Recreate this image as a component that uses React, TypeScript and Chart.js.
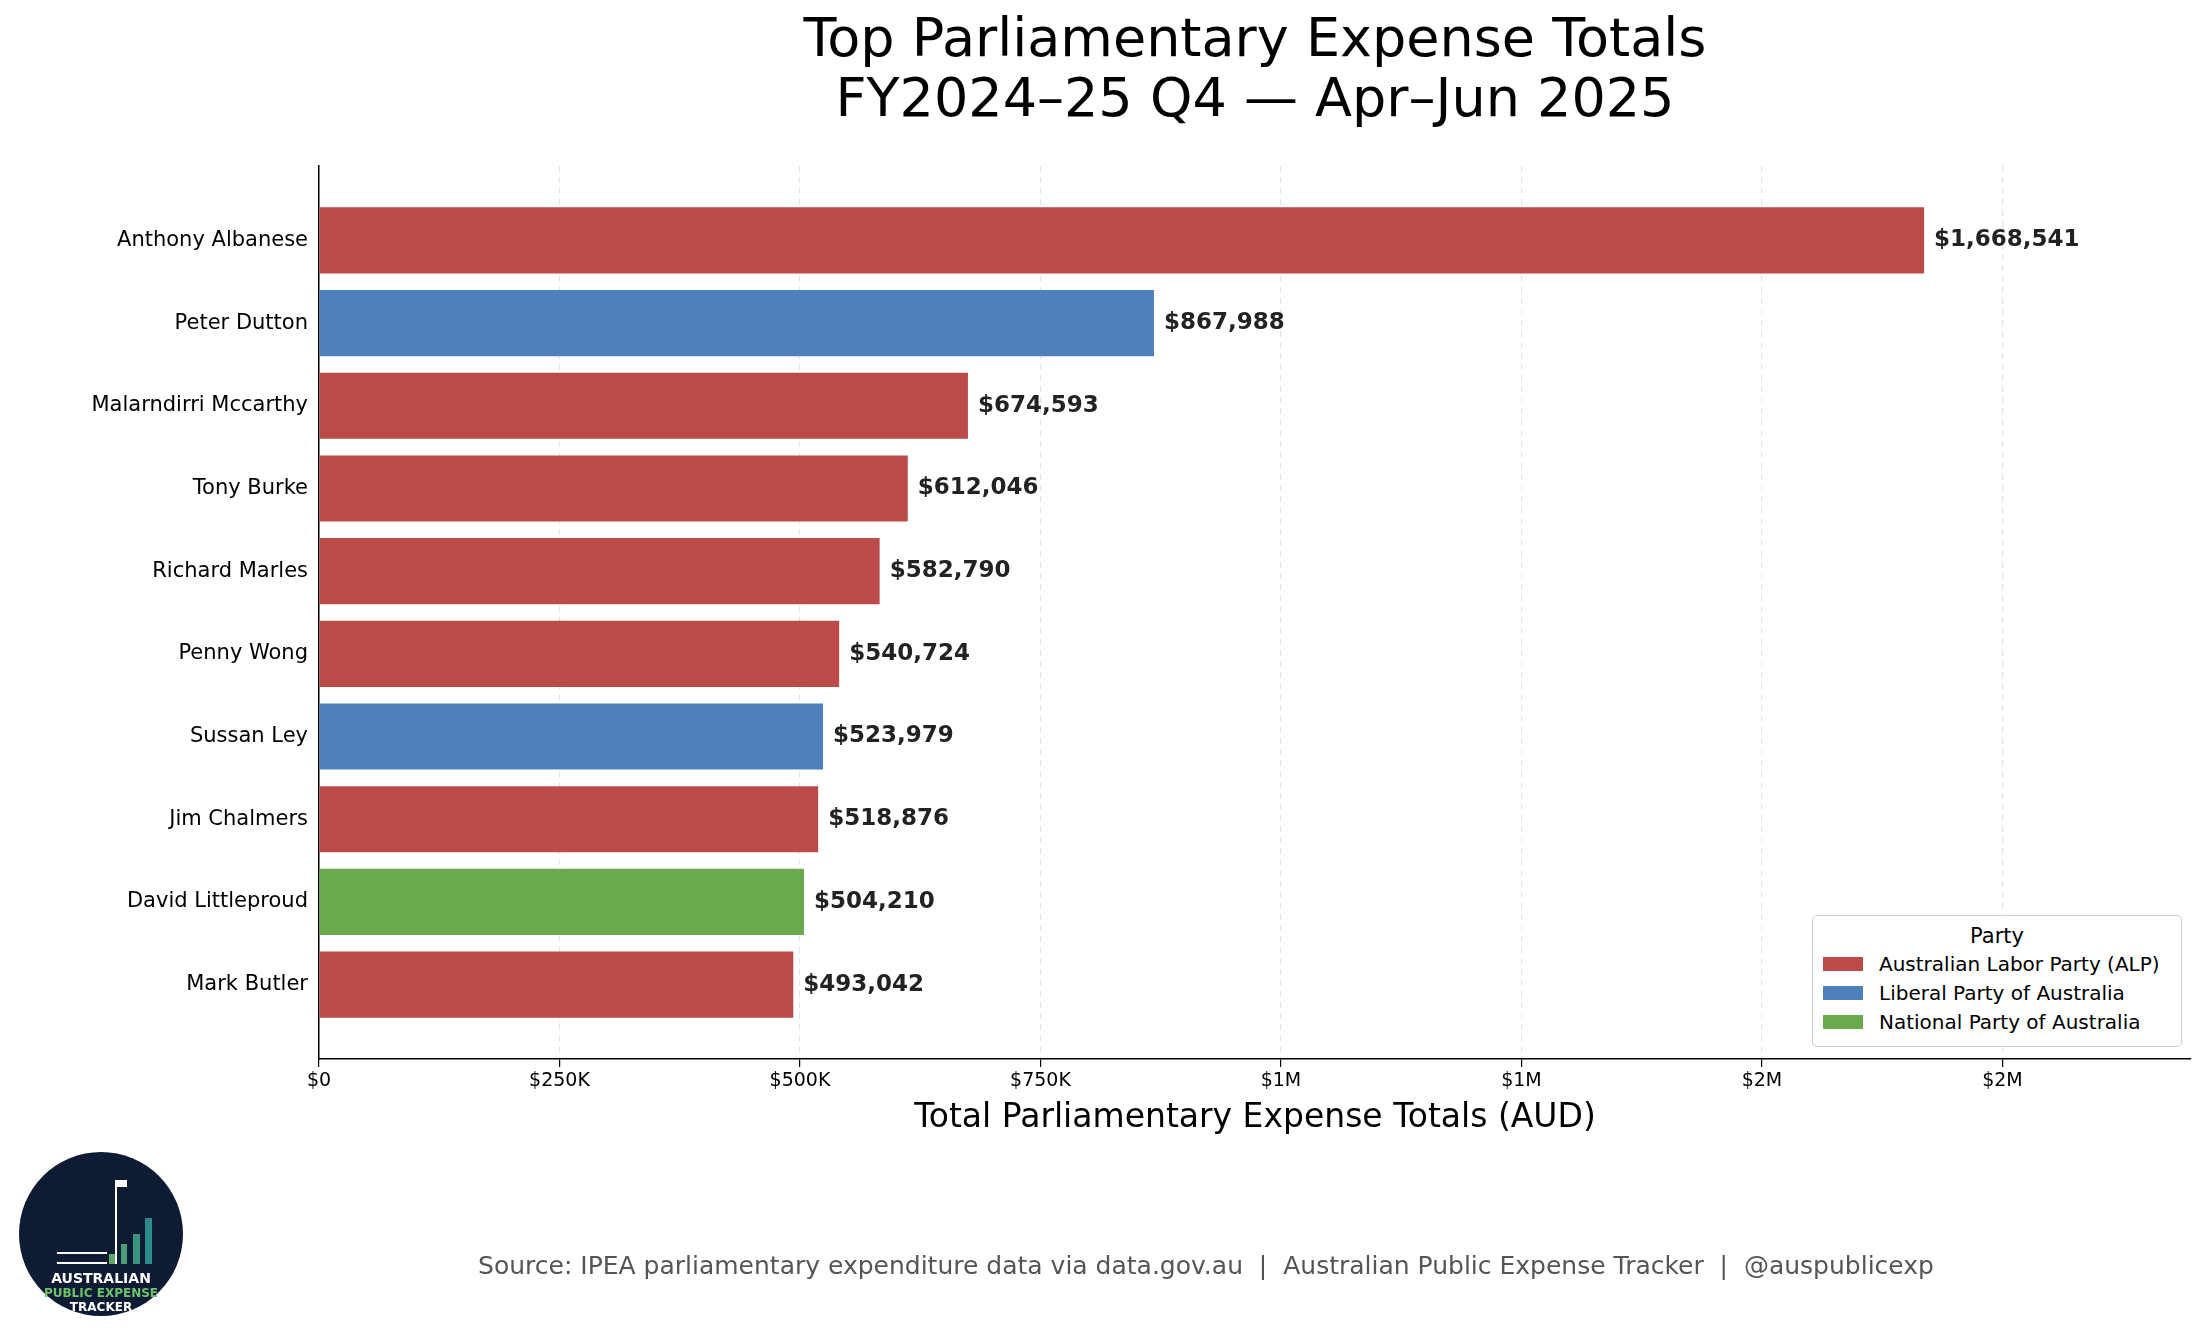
import { useEffect, useRef } from "react";
import { Chart, registerables } from "chart.js";

Chart.register(...registerables);

const names = [
  "Anthony Albanese",
  "Peter Dutton",
  "Malarndirri Mccarthy",
  "Tony Burke",
  "Richard Marles",
  "Penny Wong",
  "Sussan Ley",
  "Jim Chalmers",
  "David Littleproud",
  "Mark Butler",
];
const totals = [1668541, 867988, 674593, 612046, 582790, 540724, 523979, 518876, 504210, 493042];
const parties = ["ALP", "LIB", "ALP", "ALP", "ALP", "ALP", "LIB", "ALP", "NAT", "ALP"];
const xTicks = [0, 250000, 500000, 750000, 1000000, 1250000, 1500000, 1750000];
const partyNames = ["Australian Labor Party (ALP)", "Liberal Party of Australia", "National Party of Australia"];
const partyColors: Record<string, string> = { ALP: "#bb4a48", LIB: "#4e80bc", NAT: "#6aa94e" };
const legendColors = [partyColors.ALP, partyColors.LIB, partyColors.NAT];

const FONT = "'DejaVu Sans', sans-serif";

const valueLabels = {
  id: "valueLabels",
  afterDatasetsDraw(chart: Chart) {
    const ctx = chart.ctx;
    const meta = chart.getDatasetMeta(0);
    ctx.save();
    ctx.font = `bold 23px ${FONT}`;
    ctx.fillStyle = "#222";
    ctx.textBaseline = "middle";
    meta.data.forEach((bar: any, i: number) => {
      ctx.fillText("$" + totals[i].toLocaleString("en-US"), bar.x + 10, bar.y);
    });
    ctx.restore();
  },
};

export default function App() {
  const canvasRef = useRef<HTMLCanvasElement>(null);
  const chartRef = useRef<Chart | null>(null);

  useEffect(() => {
    if (!canvasRef.current) return;
    if (chartRef.current) chartRef.current.destroy();

    chartRef.current = new Chart(canvasRef.current, {
      type: "bar",
      data: {
        datasets: [{
          data: totals.map((v, i) => ({ x: v, y: i })),
          backgroundColor: parties.map(p => partyColors[p]),
          categoryPercentage: 0.8,
          barPercentage: 1,
        }],
      },
      plugins: [valueLabels],
      options: {
        indexAxis: "y",
        animation: false,
        responsive: false,
        layout: { padding: { top: 166, right: 14, bottom: 238, left: 0 } },
        plugins: { legend: { display: false }, tooltip: { enabled: false } },
        scales: {
          x: {
            type: "linear",
            min: 0,
            max: 1946000,
            afterFit: (s: any) => { s.height = 40; },
            afterBuildTicks: (s: any) => { s.ticks = xTicks.map(v => ({ value: v })); },
            ticks: {
              color: "#000",
              font: { family: FONT, size: 19 },
              autoSkip: false,
              maxRotation: 0,
              callback: (v: any) => {
                const n = Number(v);
                if (n === 0) return "$0";
                if (n < 1e6) return `$${n / 1000}K`;
                return `$${Math.round(n / 1e6)}M`;
              },
            },
            grid: {
              color: (c: any) => (c.tick && c.tick.value === 0 ? "rgba(0,0,0,0)" : "#e4e4e4"),
              tickColor: "#000",
              tickLength: 8,
              lineWidth: 1.2,
            },
            border: { color: "#000", width: 1.5, dash: [6, 5] } as any,
          },
          y: {
            type: "linear",
            min: -0.9,
            max: 9.9,
            reverse: true,
            offset: false,
            afterFit: (s: any) => { s.width = 319; },
            afterBuildTicks: (s: any) => { s.ticks = names.map((_, i) => ({ value: i })); },
            ticks: {
              color: "#000",
              autoSkip: false,
              font: { family: FONT, size: 21 },
              callback: (v: any) => names[Number(v)] ?? "",
            },
            grid: { display: false, offset: false, drawTicks: true, tickLength: 8, tickColor: "#000" } as any,
            border: { color: "#000", width: 1.5 },
          },
        },
      },
    });

    return () => {
      if (chartRef.current) chartRef.current.destroy();
    };
  }, []);

  return (
    <div style={{ position: "absolute", left: 0, top: 0, width: 2205, height: 1337, background: "#fff", fontFamily: FONT }}>
      <canvas ref={canvasRef} width={2205} height={1337} style={{ position: "absolute", left: 0, top: 0 }} />
      <div style={{ position: "absolute", left: 0, width: 2510, top: 8, textAlign: "center", fontSize: 54, lineHeight: "60px", color: "#000" }}>
        Top Parliamentary Expense Totals<br />FY2024–25 Q4 — Apr–Jun 2025
      </div>
      <div style={{ position: "absolute", left: 319, width: 1872, top: 1096, textAlign: "center", fontSize: 33, color: "#000" }}>
        Total Parliamentary Expense Totals (AUD)
      </div>
      <div style={{ position: "absolute", left: 400, width: 1612, top: 1251, textAlign: "center", fontSize: 25, color: "#555" }}>
        Source: IPEA parliamentary expenditure data via data.gov.au&nbsp; | &nbsp;Australian Public Expense Tracker&nbsp; | &nbsp;@auspublicexp
      </div>
      <div style={{ position: "absolute", left: 19, top: 1152, width: 164, height: 164, borderRadius: "50%", background: "#0d1b33", color: "#fff", textAlign: "center", fontWeight: "bold" }}>
        <div style={{ position: "absolute", top: 58, left: 22, width: 100, height: 54 }}>
          <div style={{ position: "absolute", left: 16, bottom: 0, width: 50, height: 8, borderTop: "2px solid #fff", borderBottom: "2px solid #fff" }} />
          <div style={{ position: "absolute", left: 74, top: -30, width: 2, height: 84, background: "#fff" }} />
          <div style={{ position: "absolute", left: 76, top: -30, width: 10, height: 7, background: "#fff" }} />
          <div style={{ position: "absolute", left: 68, bottom: 0, width: 6, height: 10, background: "#5fa86a" }} />
          <div style={{ position: "absolute", left: 80, bottom: 0, width: 6, height: 20, background: "#4a9f78" }} />
          <div style={{ position: "absolute", left: 92, bottom: 0, width: 7, height: 30, background: "#3a9480" }} />
          <div style={{ position: "absolute", left: 104, bottom: 0, width: 7, height: 46, background: "#2c8a8a" }} />
        </div>
        <div style={{ position: "absolute", top: 118, width: "100%", fontSize: 14 }}>AUSTRALIAN</div>
        <div style={{ position: "absolute", top: 134, width: "100%", fontSize: 12, color: "#6cc36c" }}>PUBLIC EXPENSE</div>
        <div style={{ position: "absolute", top: 148, width: "100%", fontSize: 12 }}>TRACKER</div>
      </div>
      <div style={{ position: "absolute", left: 1812, top: 915, width: 368, height: 130, border: "1px solid #ccc", borderRadius: 5, background: "#fff", fontSize: 20, color: "#000" }}>
        <div style={{ textAlign: "center", fontSize: 21, marginTop: 8 }}>Party</div>
        {partyNames.map((p, i) => (
          <div key={p} style={{ display: "flex", alignItems: "center", marginLeft: 10, marginTop: i === 0 ? 4 : 5 }}>
            <span style={{ display: "inline-block", width: 40, height: 14, background: legendColors[i], marginRight: 16 }} />
            {p}
          </div>
        ))}
      </div>
    </div>
  );
}
